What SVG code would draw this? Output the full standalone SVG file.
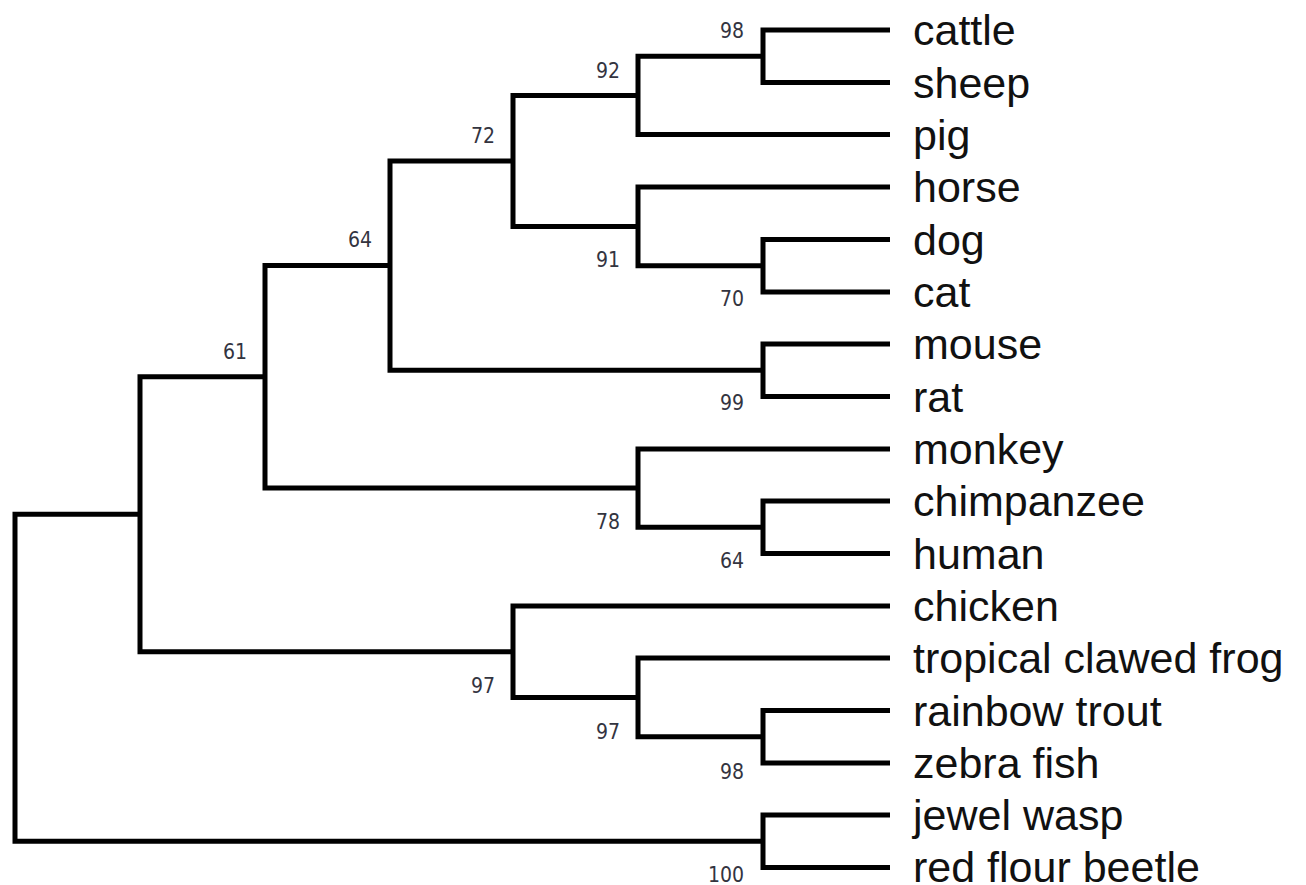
<svg xmlns="http://www.w3.org/2000/svg" width="1306" height="885" viewBox="0 0 1306 885">
  <style>
    .br { fill: none; stroke: #000; stroke-width: 5; stroke-linejoin: miter; stroke-linecap: butt; }
    .taxon { font-family: "Liberation Sans", Arial, sans-serif; font-size: 43px; fill: #111; }
    .bs { font-family: "DejaVu Sans Condensed", "DejaVu Sans", sans-serif; font-stretch: condensed; font-size: 21px; fill: #33343f; text-anchor: end; }
  </style>
  <rect width="1306" height="885" fill="#fff"/>

  <!-- branches: each path joins two children through their parent's vertical -->
  <g id="connectors">
    <path class="br" d="M890 30 H763 V82.5 H890"/>            <!-- A: cattle/sheep -->
    <path class="br" d="M763 56.25 H638 V134.5 H890"/>        <!-- B: A/pig -->
    <path class="br" d="M890 239.5 H763 V292 H890"/>          <!-- C: dog/cat -->
    <path class="br" d="M890 187 H638 V265.75 H763"/>         <!-- D: horse/C -->
    <path class="br" d="M638 95.4 H513 V226.4 H638"/>         <!-- E: B/D -->
    <path class="br" d="M890 344 H763 V396.5 H890"/>          <!-- F: mouse/rat -->
    <path class="br" d="M513 160.9 H390 V370.25 H763"/>       <!-- G: E/F -->
    <path class="br" d="M890 501 H763 V553.5 H890"/>          <!-- H: chimpanzee/human -->
    <path class="br" d="M890 449 H638 V527.25 H763"/>         <!-- I: monkey/H -->
    <path class="br" d="M390 265.6 H265 V488.1 H638"/>        <!-- J: G/I -->
    <path class="br" d="M890 710.5 H763 V763 H890"/>          <!-- K: trout/zebra fish -->
    <path class="br" d="M890 658 H638 V736.75 H763"/>         <!-- L: frog/K -->
    <path class="br" d="M890 606 H513 V697.4 H638"/>          <!-- M: chicken/L -->
    <path class="br" d="M265 376.85 H140 V651.7 H513"/>       <!-- N: J/M -->
    <path class="br" d="M890 815 H763 V867.5 H890"/>          <!-- O: wasp/beetle -->
    <path class="br" d="M140 514.3 H15 V841.25 H763"/>        <!-- root -->
  </g>

  <!-- taxa -->
  <g id="leaf-cattle"><text class="taxon" x="913" y="45">cattle</text></g>
  <g id="leaf-sheep"><text class="taxon" x="913" y="97.5">sheep</text></g>
  <g id="leaf-pig"><text class="taxon" x="913" y="149.5">pig</text></g>
  <g id="leaf-horse"><text class="taxon" x="913" y="202">horse</text></g>
  <g id="leaf-dog"><text class="taxon" x="913" y="254.5">dog</text></g>
  <g id="leaf-cat"><text class="taxon" x="913" y="307">cat</text></g>
  <g id="leaf-mouse"><text class="taxon" x="913" y="359">mouse</text></g>
  <g id="leaf-rat"><text class="taxon" x="913" y="411.5">rat</text></g>
  <g id="leaf-monkey"><text class="taxon" x="913" y="464">monkey</text></g>
  <g id="leaf-chimpanzee"><text class="taxon" x="913" y="516">chimpanzee</text></g>
  <g id="leaf-human"><text class="taxon" x="913" y="568.5">human</text></g>
  <g id="leaf-chicken"><text class="taxon" x="913" y="621">chicken</text></g>
  <g id="leaf-frog"><text class="taxon" x="913" y="673">tropical clawed frog</text></g>
  <g id="leaf-trout"><text class="taxon" x="913" y="725.5">rainbow trout</text></g>
  <g id="leaf-zebrafish"><text class="taxon" x="913" y="778">zebra fish</text></g>
  <g id="leaf-wasp"><text class="taxon" x="913" y="830">jewel wasp</text></g>
  <g id="leaf-beetle"><text class="taxon" x="913" y="881.5">red flour beetle</text></g>

  <!-- bootstrap support at internal nodes -->
  <g id="node-A"><text class="bs" x="744" y="38">98</text></g>
  <g id="node-B"><text class="bs" x="620" y="78">92</text></g>
  <g id="node-C"><text class="bs" x="744" y="305.5">70</text></g>
  <g id="node-D"><text class="bs" x="620" y="266.5">91</text></g>
  <g id="node-E"><text class="bs" x="495" y="142.5">72</text></g>
  <g id="node-F"><text class="bs" x="744" y="409.5">99</text></g>
  <g id="node-G"><text class="bs" x="372" y="246.5">64</text></g>
  <g id="node-H"><text class="bs" x="744" y="568">64</text></g>
  <g id="node-I"><text class="bs" x="620" y="529">78</text></g>
  <g id="node-J"><text class="bs" x="247" y="358.5">61</text></g>
  <g id="node-K"><text class="bs" x="744" y="778.5">98</text></g>
  <g id="node-L"><text class="bs" x="620" y="739">97</text></g>
  <g id="node-M"><text class="bs" x="495" y="693">97</text></g>
  <g id="node-O"><text class="bs" x="744" y="882">100</text></g>
</svg>
